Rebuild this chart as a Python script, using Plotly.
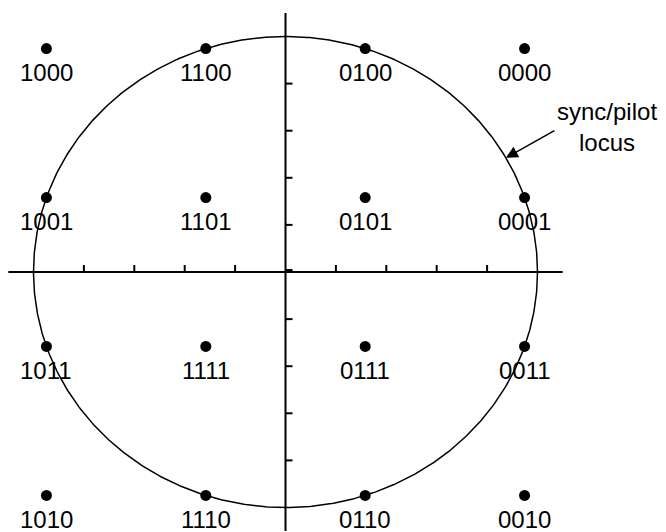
import numpy as np
import plotly.graph_objects as go

# ---- data ----
i_levels = [-3, -1, 1, 3]
q_levels = [3, 1, -1, -3]
symbol_labels = [
    ["1000", "1100", "0100", "0000"],
    ["1001", "1101", "0101", "0001"],
    ["1011", "1111", "0111", "0011"],
    ["1010", "1110", "0110", "0010"],
]
locus_radius = float(np.sqrt(10))
tick_fractions = [0.2, 0.4, 0.6, 0.8]
axis_extent = 1.1
locus_text = "sync/pilot<br>locus"

# ---- layout constants (page has an 8px body margin) ----
W, H = 658, 524
cx_px, cy_px = 277.5, 264.0
sx = 252.0 / locus_radius   # px per unit (x)
sy = 235.5 / locus_radius   # px per unit (y)
xr = [-cx_px / sx, (W - cx_px) / sx]
yr = [-(H - cy_px) / sy, cy_px / sy]
FONT = "Liberation Sans, Arial, sans-serif"

xs, ys, texts = [], [], []
for r, q in enumerate(q_levels):
    for c, i in enumerate(i_levels):
        xs.append(i)
        ys.append(q)
        texts.append(symbol_labels[r][c])

fig = go.Figure()

# circle (locus)
t = np.linspace(0, 2 * np.pi, 721)
fig.add_trace(go.Scatter(x=locus_radius * np.cos(t), y=locus_radius * np.sin(t),
                         mode="lines", line=dict(color="black", width=1.5),
                         hoverinfo="skip", showlegend=False))

shapes = []
E = axis_extent * locus_radius
shapes.append(dict(type="line", xref="x", yref="y", x0=-E, x1=E, y0=0, y1=0,
                   line=dict(color="black", width=2)))
shapes.append(dict(type="line", xref="x", yref="y", x0=0, x1=0, y0=-E, y1=E,
                   line=dict(color="black", width=2)))
tick_len_y = 7 / sy
tick_len_x = 7 / sx
for f in tick_fractions:
    for s in (-1, 1):
        p = s * f * locus_radius
        shapes.append(dict(type="line", xref="x", yref="y", x0=p, x1=p, y0=0, y1=tick_len_y,
                           line=dict(color="black", width=2)))
        shapes.append(dict(type="line", xref="x", yref="y", x0=0, x1=tick_len_x, y0=p, y1=p,
                           line=dict(color="black", width=2)))
# small tick at origin on the vertical axis
shapes.append(dict(type="line", xref="x", yref="y", x0=0, x1=tick_len_x, y0=2 / sy, y1=2 / sy,
                   line=dict(color="black", width=2)))

# constellation points
fig.add_trace(go.Scatter(x=xs, y=ys, mode="markers",
                         marker=dict(color="black", size=11),
                         hoverinfo="skip", showlegend=False))

annotations = []
for x, y, tx in zip(xs, ys, texts):
    annotations.append(dict(x=x, y=y, xref="x", yref="y", text=tx, showarrow=False,
                            yshift=-24, font=dict(family=FONT, size=24, color="black")))

# arrow to locus
ang = np.deg2rad(29.0)
annotations.append(dict(x=locus_radius * np.cos(ang), y=locus_radius * np.sin(ang),
                        xref="x", yref="y", text="", showarrow=True,
                        ax=50, ay=-28, arrowhead=2, arrowsize=1.6, arrowwidth=1.5,
                        arrowcolor="black"))
annotations.append(dict(x=(599 - cx_px) / sx, y=(cy_px - 119) / sy, xref="x", yref="y",
                        text=locus_text, showarrow=False,
                        font=dict(family=FONT, size=24, color="black")))

fig.update_layout(
    width=W, height=H,
    margin=dict(l=0, r=0, t=0, b=0),
    paper_bgcolor="white", plot_bgcolor="white",
    xaxis=dict(range=xr, visible=False, fixedrange=True),
    yaxis=dict(range=yr, visible=False, fixedrange=True),
    shapes=shapes, annotations=annotations,
    showlegend=False,
)
fig.write_html("out.html")
